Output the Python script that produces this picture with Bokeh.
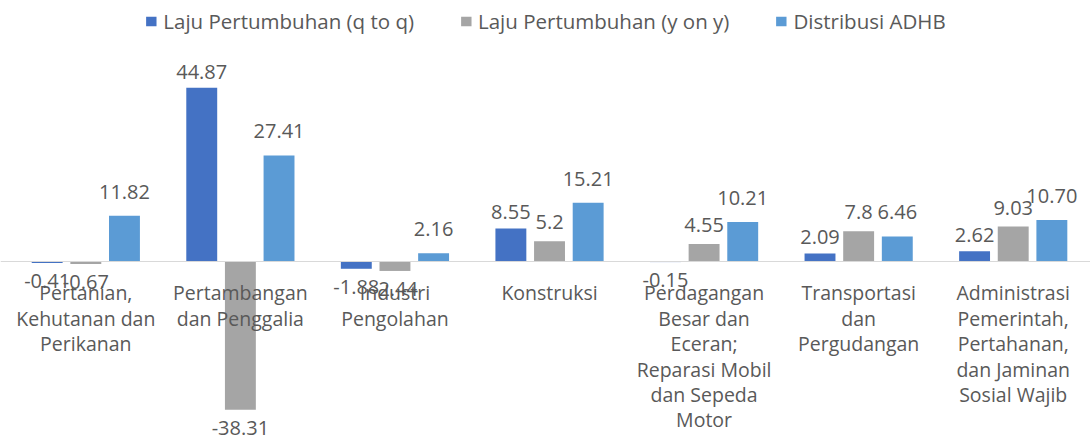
from bokeh.plotting import figure
from bokeh.models import ColumnDataSource, Range1d, Span, Legend, LegendItem
from bokeh.core.properties import value
from bokeh.embed import file_html
from bokeh.resources import INLINE

categories = [
    "Pertanian,\nKehutanan dan\nPerikanan",
    "Pertambangan\ndan Penggalia",
    "Industri\nPengolahan",
    "Konstruksi",
    "Perdagangan\nBesar dan\nEceran;\nReparasi Mobil\ndan Sepeda\nMotor",
    "Transportasi\ndan\nPergudangan",
    "Administrasi\nPemerintah,\nPertahanan,\ndan Jaminan\nSosial Wajib",
]
series_names = ["Laju Pertumbuhan (q to q)", "Laju Pertumbuhan (y on y)", "Distribusi ADHB"]
qtoq = [-0.41, 44.87, -1.88, 8.55, -0.15, 2.09, 2.62]
yony = [-0.67, -38.31, -2.44, 5.2, 4.55, 7.8, 9.03]
adhb = [11.82, 27.41, 2.16, 15.21, 10.21, 6.46, 10.70]
qtoq_labels = ["-0.41", "44.87", "-1.88", "8.55", "-0.15", "2.09", "2.62"]
yony_labels = ["-0.67", "-38.31", "-2.44", "5.2", "4.55", "7.8", "9.03"]
adhb_labels = ["11.82", "27.41", "2.16", "15.21", "10.21", "6.46", "10.70"]

colors = ["#4472C4", "#A5A5A5", "#5B9BD5"]
offsets = [-0.25, 0.0, 0.25]
pos_gap = [16, 19, 24]
neg_gap = 18
TEXT = "#595959"
FONT = "Open Sans"

p = figure(width=1090, height=442, x_range=Range1d(-0.552, 6.5), y_range=Range1d(-46.77, 67.44),
           output_backend="svg", toolbar_location=None, min_border=0,
           x_axis_location=None, y_axis_location=None)
p.grid.visible = False
p.outline_line_color = None
p.background_fill_color = "white"

p.add_layout(Span(location=0, dimension="width", line_color="#D9D9D9", line_width=1))

renderers = []
for vals, labs, col, off, gap in zip([qtoq, yony, adhb], [qtoq_labels, yony_labels, adhb_labels],
                                     colors, offsets, pos_gap):
    xs = [i + off for i in range(len(categories))]
    src = ColumnDataSource(dict(x=xs, top=vals, lab=labs,
                                yoff=[-gap if v >= 0 else neg_gap for v in vals]))
    r = p.vbar(x="x", top="top", bottom=0, width=0.2, source=src, fill_color=col, line_color=None)
    renderers.append(r)
    p.text(x="x", y="top", text="lab", source=src, y_offset="yoff", text_align="center",
           text_baseline="alphabetic", text_font=value(FONT), text_font_size="20px", text_color=TEXT)

csrc = ColumnDataSource(dict(x=list(range(len(categories))), y=[0] * len(categories), t=categories))
p.text(x="x", y="y", text="t", source=csrc, y_offset=18, text_align="center", text_baseline="top",
       text_font=value(FONT), text_font_size="19.5px", text_color=TEXT, text_line_height=0.94)

legend = Legend(items=[LegendItem(label=n, renderers=[r]) for n, r in zip(series_names, renderers)],
                orientation="horizontal", location="top_center",
                label_text_font=FONT, label_text_font_size="20.5px", label_text_color=TEXT,
                glyph_width=13, glyph_height=12, label_standoff=6, spacing=45,
                padding=12, margin=7, border_line_color=None, background_fill_alpha=0)
p.add_layout(legend)

open("out.html", "w").write(file_html(p, INLINE))
